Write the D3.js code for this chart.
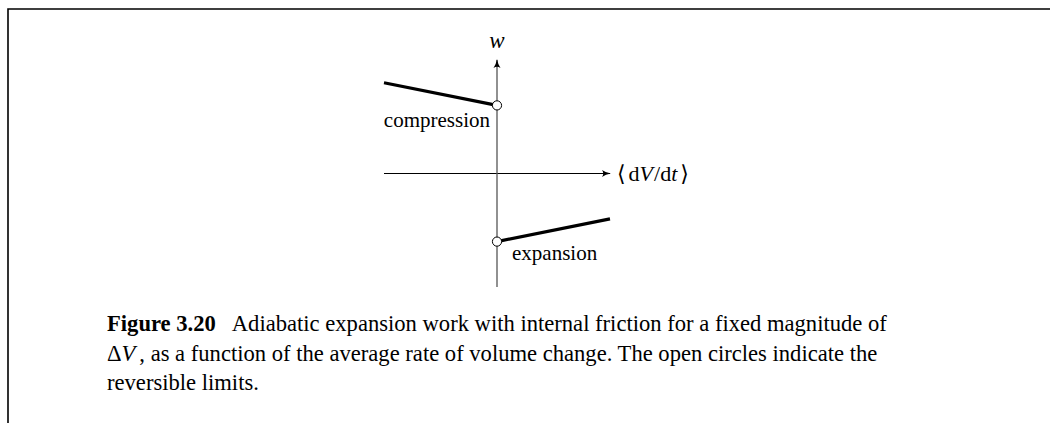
<!DOCTYPE html>
<html>
<head>
<meta charset="utf-8">
<script src="https://cdn.jsdelivr.net/npm/d3@7"></script>
<style>
  body { margin: 0; background: #fff; }
  svg { display: block; font-family: "Liberation Serif", "DejaVu Serif", serif; }
</style>
</head>
<body>
<svg id="chart" width="1050" height="423"></svg>
<script>
// segments of w against <dV/dt>, the open circle is the reversible end
const compression = [[-1, 0.8], [0, 0.6]];
const expansion = [[0, -0.6], [1, -0.4]];
const limits = [[0, 0.6], [0, -0.6]];
const captionLines = [
    ["Figure 3.20", "Adiabatic expansion work with internal friction for a fixed magnitude of"],
    ["", "\u0394V, as a function of the average rate of volume change. The open circles indicate the"],
    ["", "reversible limits."]
];

const svg = d3.select("#chart");

// page frame (top and left rule)
svg.append("path")
    .attr("d", "M8,423 V9 H1050")
    .attr("fill", "none")
    .attr("stroke", "#000")
    .attr("stroke-width", 1.6);

const x = d3.scaleLinear().domain([-1, 1]).range([384, 610]);
const y = d3.scaleLinear().domain([-1, 1]).range([287, 60]);

const defs = svg.append("defs");
defs.append("marker")
    .attr("id", "arrow")
    .attr("viewBox", "0 -5 10 10")
    .attr("refX", 9)
    .attr("refY", 0)
    .attr("markerWidth", 9)
    .attr("markerHeight", 9)
    .attr("markerUnits", "userSpaceOnUse")
    .attr("orient", "auto")
    .append("path")
    .attr("d", "M0,-4 Q4,-1 10,0 Q4,1 0,4 Q3,0 0,-4 Z")
    .attr("fill", "#000");

// horizontal axis
svg.append("line")
    .attr("x1", x(-1)).attr("x2", x(1))
    .attr("y1", y(0)).attr("y2", y(0))
    .attr("stroke", "#000")
    .attr("stroke-width", 1)
    .attr("marker-end", "url(#arrow)");

// vertical axis
svg.append("line")
    .attr("x1", x(0)).attr("x2", x(0))
    .attr("y1", y(-1)).attr("y2", y(1))
    .attr("stroke", "#555")
    .attr("stroke-width", 1.3)
    .attr("marker-end", "url(#arrow)");

const line = d3.line().x(d => x(d[0])).y(d => y(d[1]));

svg.selectAll("path.seg")
    .data([compression, expansion])
    .join("path")
    .attr("class", "seg")
    .attr("d", line)
    .attr("fill", "none")
    .attr("stroke", "#000")
    .attr("stroke-width", 3.2);

svg.selectAll("circle.limit")
    .data(limits)
    .join("circle")
    .attr("class", "limit")
    .attr("cx", d => x(d[0]))
    .attr("cy", d => y(d[1]))
    .attr("r", 4.6)
    .attr("fill", "#fff")
    .attr("stroke", "#000")
    .attr("stroke-width", 1);

// axis labels
svg.append("text")
    .attr("x", x(0)).attr("y", 48)
    .attr("text-anchor", "middle")
    .attr("font-size", 23)
    .attr("font-style", "italic")
    .text("w");

const xl = svg.append("text")
    .attr("x", x(1) + 7).attr("y", y(0) + 7)
    .attr("font-size", 22);
xl.append("tspan").text("\u27E8");
xl.append("tspan").attr("dx", 3).text("d");
xl.append("tspan").attr("font-style", "italic").text("V");
xl.append("tspan").attr("dx", 1).text("/d");
xl.append("tspan").attr("font-style", "italic").text("t");
xl.append("tspan").attr("dx", 3).text("\u27E9");

svg.append("text")
    .attr("x", x(0) - 7).attr("y", 127)
    .attr("text-anchor", "end")
    .attr("font-size", 21)
    .text("compression");

svg.append("text")
    .attr("x", x(0) + 15).attr("y", 260)
    .attr("font-size", 21)
    .text("expansion");

// caption
const cap = svg.append("g").attr("font-size", 22.6);
captionLines.forEach((ln, i) => {
    const t = cap.append("text")
        .attr("x", 107)
        .attr("y", 331 + i * 29.5);
    if (ln[0]) {
        t.append("tspan").attr("font-weight", "bold").text(ln[0]);
        t.append("tspan").attr("dx", 16).text(ln[1]);
    } else if (i === 1) {
        t.append("tspan").text("\u0394");
        t.append("tspan").attr("font-style", "italic").text("V");
        t.append("tspan").attr("dx", 4).text(ln[1].slice(2));
    } else {
        t.append("tspan").text(ln[1]);
    }
});
</script>
</body>
</html>
